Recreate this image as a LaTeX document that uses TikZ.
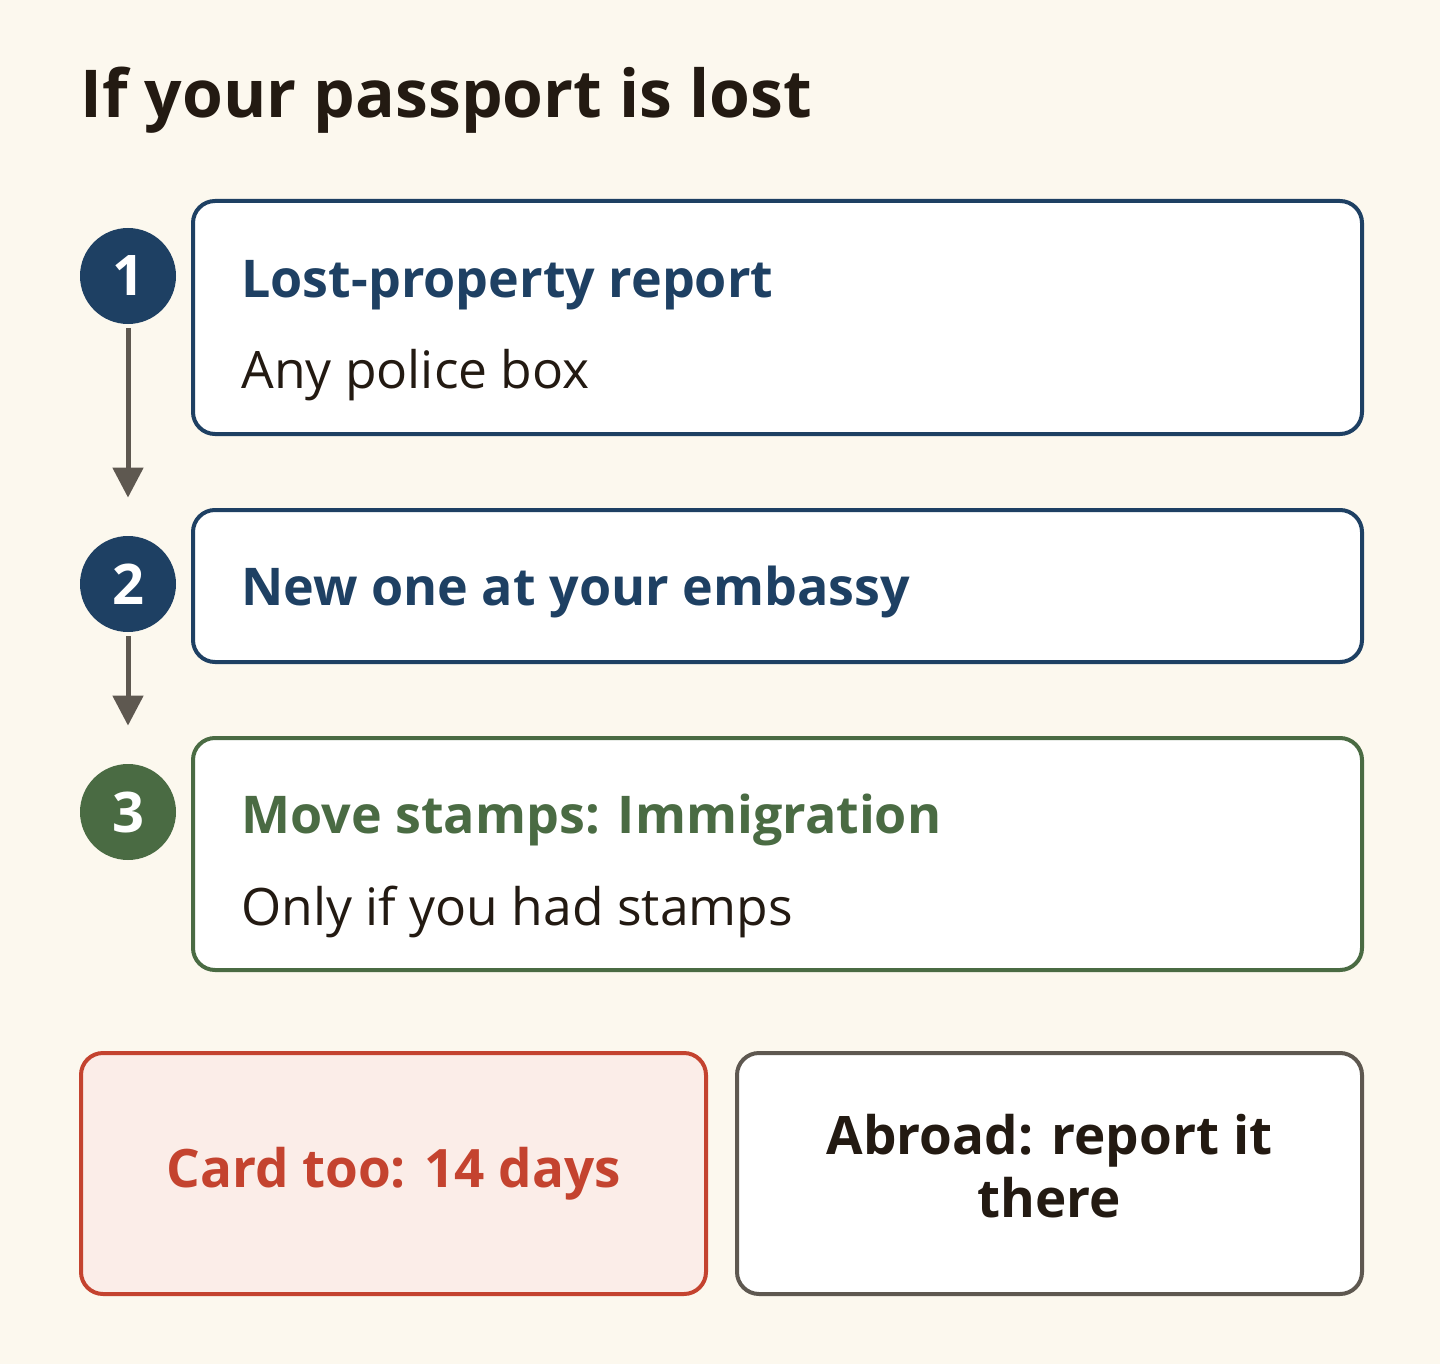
\documentclass[tikz,border=0pt]{standalone}
\usepackage{fontspec}
\setmainfont{Open Sans}
\usetikzlibrary{arrows.meta}
\usetikzlibrary{positioning}

\definecolor{cream}{HTML}{FCF8EE}
\definecolor{ink}{HTML}{231A12}
\definecolor{navy}{HTML}{1E4063}
\definecolor{moss}{HTML}{4A6B43}
\definecolor{brick}{HTML}{C4432F}
\definecolor{blush}{HTML}{FBEDE8}
\definecolor{slate}{HTML}{5E5850}

\begin{document}
\begin{tikzpicture}
  [x=0.5pt, y=-0.5pt,
   stepbox/.style={draw, line width=2pt, rounded corners=11pt, fill=white,
      anchor=north west, minimum width=584.5pt, inner sep=0pt},
   num/.style={circle, minimum size=48pt, inner sep=0pt, text=white,
      font=\bfseries\fontsize{28}{28}\selectfont},
   head/.style={anchor=base west, inner sep=0pt, font=\bfseries\fontsize{26}{32}\selectfont},
   sub/.style={anchor=base west, inner sep=0pt, text=ink, font=\fontsize{25.8}{32}\selectfont},
   flow/.style={draw=slate, line width=2.5pt, -{Triangle[width=15pt,length=15pt]},
      shorten <=2pt, shorten >=19pt},
   notebox/.style={draw, line width=2pt, rounded corners=11pt, anchor=north west,
      minimum width=312.5pt, minimum height=120.5pt, inner sep=0pt, align=center,
      font=\bfseries\fontsize{26.5}{31.5}\selectfont},
  ]
  \fill[cream] (0,0) rectangle (1440,1364);
  \useasboundingbox (0,0) rectangle (1440,1364);

  % title
  \node[anchor=base west, inner sep=0pt, text=ink, font=\bfseries\fontsize{33}{40}\selectfont]
    (title) at (80,118) {If your passport is lost};

  % steps
  \node[stepbox, draw=navy, minimum height=116.5pt] (lost) at (191,199) {};
  \node[head, text=navy] (losthead) at (241,298) {Lost-property report};
  \node[sub] (losttext) at (241,388) {Any police box};

  \node[stepbox, draw=navy, minimum height=76pt] (embassy) at (191,508) {};
  \node[head, text=navy] (embassyhead) at (241,605) {New one at your embassy};

  \node[stepbox, draw=moss, minimum height=116pt] (stamps) at (191,736) {};
  \node[head, text=moss] (stampshead) at (241,833) {Move stamps: Immigration};
  \node[sub] (stampstext) at (241,925) {Only if you had stamps};

  % numbers
  \node[num, fill=navy] (n1) at (128,276) {1};
  \node[num, fill=navy] (n2) at (128,584) {2};
  \node[num, fill=moss] (n3) at (128,812) {3};

  \draw[flow] (n1) -- (n2);
  \draw[flow] (n2) -- (n3);

  % notes
  \node[notebox, draw=brick, fill=blush, text=brick] (card) at (79,1051) {Card too: 14 days};
  \node[notebox, draw=slate, fill=white, text=ink, text depth=8pt] (abroad) at (735,1051)
    {Abroad: report it\\there};
\end{tikzpicture}
\end{document}
